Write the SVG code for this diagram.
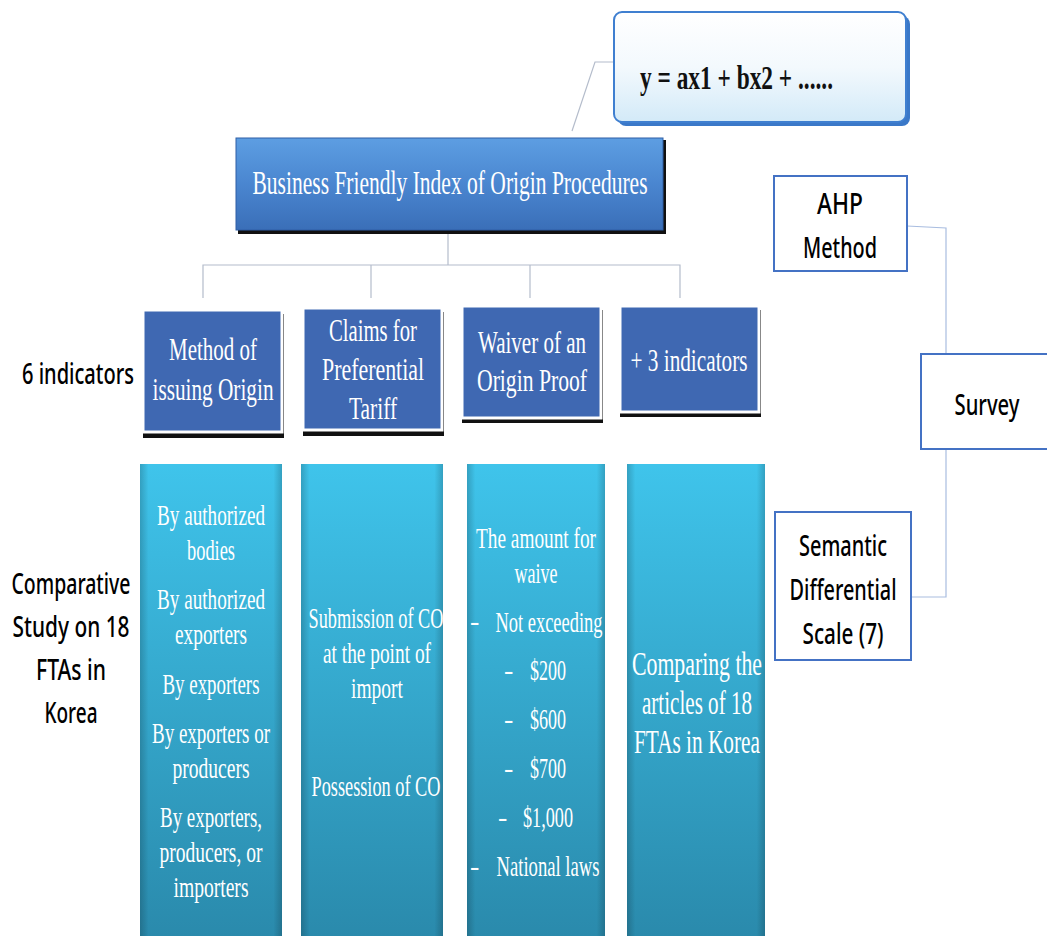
<svg xmlns="http://www.w3.org/2000/svg" width="1047" height="936" viewBox="0 0 1047 936">
<defs>
<linearGradient id="gMain" x1="0" y1="0" x2="0" y2="1">
<stop offset="0" stop-color="#5d9ee2"/><stop offset="0.5" stop-color="#4a86d0"/><stop offset="1" stop-color="#3a6fb8"/>
</linearGradient>
<linearGradient id="gCol" x1="0" y1="0" x2="0" y2="1">
<stop offset="0" stop-color="#3fc4eb"/><stop offset="1" stop-color="#2a8aac"/>
</linearGradient>
<linearGradient id="gEdge" x1="0" y1="0" x2="1" y2="0">
<stop offset="0" stop-color="#000" stop-opacity="0.18"/><stop offset="0.06" stop-color="#000" stop-opacity="0"/><stop offset="0.94" stop-color="#000" stop-opacity="0"/><stop offset="1" stop-color="#000" stop-opacity="0.18"/>
</linearGradient>
<linearGradient id="gFormula" x1="0" y1="0" x2="0" y2="1">
<stop offset="0" stop-color="#ffffff"/><stop offset="0.5" stop-color="#f3f9fd"/><stop offset="1" stop-color="#d3eaf8"/>
</linearGradient>
</defs>
<style>
.serif{font-family:"Liberation Serif","Times New Roman",serif;fill:#fff;text-anchor:middle}
.dash{font-family:"Liberation Serif","Times New Roman",serif;fill:#fff;font-size:28px}
.sans{font-family:"Noto Sans","DejaVu Sans",sans-serif;fill:#000;text-anchor:middle;font-weight:500}
.ind{fill:#3f68b2;stroke:#fff;stroke-width:3}
.shadow{fill:#111}
.col{fill:url(#gCol)}
.edge{fill:url(#gEdge)}
.side{fill:#fff;stroke:#4472c4;stroke-width:2}
.conn{fill:none;stroke:#b4bccb;stroke-width:1.2}
.conn2{fill:none;stroke:#a9bde0;stroke-width:1.2}
</style>

<g id="connectors">
<polyline class="conn" points="614,62 595,62 572,131"/>
<line class="conn" x1="448" y1="230" x2="448" y2="265"/>
<polyline class="conn" points="203,298 203,265 680,265 680,298"/>
<line class="conn" x1="371" y1="265" x2="371" y2="298"/>
<line class="conn" x1="530" y1="265" x2="530" y2="298"/>
<polyline class="conn2" points="907,226 946,228 946,597 911,597"/>
</g>

<g id="formula">
<rect x="618" y="16" width="292" height="110" rx="8" fill="#3a78c8"/>
<rect x="614" y="12" width="292" height="110" rx="8" fill="url(#gFormula)" stroke="#3f7fd0" stroke-width="2"/>
<text x="640" y="89" font-family="Liberation Serif,serif" font-weight="bold" font-size="34" fill="#111" textLength="193" lengthAdjust="spacingAndGlyphs">y = ax1 + bx2 + ......</text>
</g>

<g id="main">
<rect class="shadow" x="238" y="140" width="428" height="94"/>
<rect x="236" y="138" width="427" height="92" fill="url(#gMain)"/>
<rect x="236" y="138" width="427" height="92" fill="none" stroke="#2f5fa6" stroke-width="1"/>
<text class="serif" x="450" y="194" font-size="34" textLength="395" lengthAdjust="spacingAndGlyphs">Business Friendly Index of  Origin Procedures</text>
</g>

<g id="ind1">
<rect class="shadow" x="143" y="314" width="141" height="124"/>
<rect class="ind" x="143" y="310" width="139" height="122"/>
<text class="serif" x="213" y="360" font-size="32" textLength="88" lengthAdjust="spacingAndGlyphs">Method of</text>
<text class="serif" x="213" y="400" font-size="32" textLength="121" lengthAdjust="spacingAndGlyphs">issuing Origin</text>
</g>
<g id="ind2">
<rect class="shadow" x="303" y="312" width="141" height="124"/>
<rect class="ind" x="303" y="308" width="139" height="122"/>
<text class="serif" x="373" y="341" font-size="32" textLength="88" lengthAdjust="spacingAndGlyphs">Claims for</text>
<text class="serif" x="373" y="380" font-size="32" textLength="102" lengthAdjust="spacingAndGlyphs">Preferential</text>
<text class="serif" x="373" y="419" font-size="32" textLength="48" lengthAdjust="spacingAndGlyphs">Tariff</text>
</g>
<g id="ind3">
<rect class="shadow" x="462" y="310" width="141" height="113"/>
<rect class="ind" x="462" y="306" width="139" height="112"/>
<text class="serif" x="532" y="353" font-size="32" textLength="108" lengthAdjust="spacingAndGlyphs">Waiver of an</text>
<text class="serif" x="532" y="391" font-size="32" textLength="110" lengthAdjust="spacingAndGlyphs">Origin Proof</text>
</g>
<g id="ind4">
<rect class="shadow" x="620" y="310" width="141" height="107"/>
<rect class="ind" x="620" y="306" width="139" height="106"/>
<text class="serif" x="689" y="371" font-size="32" textLength="117" lengthAdjust="spacingAndGlyphs">+ 3 indicators</text>
</g>

<g id="label-indicators">
<text class="sans" x="78" y="384" font-size="29" textLength="112" lengthAdjust="spacingAndGlyphs">6 indicators</text>
</g>
<g id="label-comparative">
<text class="sans" x="71" y="594" font-size="29" textLength="119" lengthAdjust="spacingAndGlyphs">Comparative</text>
<text class="sans" x="71" y="637" font-size="29" textLength="117" lengthAdjust="spacingAndGlyphs">Study on 18</text>
<text class="sans" x="71" y="680" font-size="29" textLength="70" lengthAdjust="spacingAndGlyphs">FTAs in</text>
<text class="sans" x="71" y="723" font-size="29" textLength="53" lengthAdjust="spacingAndGlyphs">Korea</text>
</g>

<g id="col1">
<rect class="col" x="140" y="464" width="142" height="472"/>
<rect class="edge" x="140" y="464" width="142" height="472"/>
<text class="serif" x="211" y="525" font-size="29" textLength="108" lengthAdjust="spacingAndGlyphs">By authorized</text>
<text class="serif" x="211" y="560" font-size="29" textLength="48" lengthAdjust="spacingAndGlyphs">bodies</text>
<text class="serif" x="211" y="609" font-size="29" textLength="108" lengthAdjust="spacingAndGlyphs">By authorized</text>
<text class="serif" x="211" y="644" font-size="29" textLength="72" lengthAdjust="spacingAndGlyphs">exporters</text>
<text class="serif" x="211" y="694" font-size="29" textLength="97" lengthAdjust="spacingAndGlyphs">By exporters</text>
<text class="serif" x="211" y="743" font-size="29" textLength="118" lengthAdjust="spacingAndGlyphs">By exporters or</text>
<text class="serif" x="211" y="778" font-size="29" textLength="77" lengthAdjust="spacingAndGlyphs">producers</text>
<text class="serif" x="211" y="827" font-size="29" textLength="102" lengthAdjust="spacingAndGlyphs">By exporters,</text>
<text class="serif" x="211" y="862" font-size="29" textLength="103" lengthAdjust="spacingAndGlyphs">producers, or</text>
<text class="serif" x="211" y="897" font-size="29" textLength="75" lengthAdjust="spacingAndGlyphs">importers</text>
</g>
<g id="col2">
<rect class="col" x="301" y="464" width="142" height="472"/>
<rect class="edge" x="301" y="464" width="142" height="472"/>
<text class="serif" x="376" y="628" font-size="29" textLength="135" lengthAdjust="spacingAndGlyphs">Submission of CO</text>
<text class="serif" x="377" y="663" font-size="29" textLength="108" lengthAdjust="spacingAndGlyphs">at the point of</text>
<text class="serif" x="377" y="698" font-size="29" textLength="52" lengthAdjust="spacingAndGlyphs">import</text>
<text class="serif" x="376" y="796" font-size="29" textLength="129" lengthAdjust="spacingAndGlyphs">Possession of CO</text>
</g>
<g id="col3">
<rect class="col" x="467" y="464" width="138" height="472"/>
<rect class="edge" x="467" y="464" width="138" height="472"/>
<text class="serif" x="536" y="548" font-size="29" textLength="120" lengthAdjust="spacingAndGlyphs">The amount for</text>
<text class="serif" x="536" y="583" font-size="29" textLength="43" lengthAdjust="spacingAndGlyphs">waive</text>
<text class="dash" x="470" y="630">-</text>
<text class="serif" x="549" y="632" font-size="29" textLength="107" lengthAdjust="spacingAndGlyphs">Not exceeding</text>
<text class="dash" x="504" y="679">-</text>
<text class="serif" x="548" y="680" font-size="29" textLength="36" lengthAdjust="spacingAndGlyphs">$200</text>
<text class="dash" x="504" y="728">-</text>
<text class="serif" x="548" y="729" font-size="29" textLength="36" lengthAdjust="spacingAndGlyphs">$600</text>
<text class="dash" x="504" y="777">-</text>
<text class="serif" x="548" y="778" font-size="29" textLength="36" lengthAdjust="spacingAndGlyphs">$700</text>
<text class="dash" x="498" y="826">-</text>
<text class="serif" x="548" y="827" font-size="29" textLength="50" lengthAdjust="spacingAndGlyphs">$1,000</text>
<text class="dash" x="470" y="875">-</text>
<text class="serif" x="548" y="876" font-size="29" textLength="103" lengthAdjust="spacingAndGlyphs">National laws</text>
</g>
<g id="col4">
<rect class="col" x="627" y="464" width="138" height="472"/>
<rect class="edge" x="627" y="464" width="138" height="472"/>
<text class="serif" x="697" y="675" font-size="33" textLength="130" lengthAdjust="spacingAndGlyphs">Comparing the</text>
<text class="serif" x="697" y="714" font-size="33" textLength="110" lengthAdjust="spacingAndGlyphs">articles of 18</text>
<text class="serif" x="697" y="753" font-size="33" textLength="126" lengthAdjust="spacingAndGlyphs">FTAs in Korea</text>
</g>

<g id="ahp">
<rect class="side" x="774" y="176" width="133" height="95"/>
<text class="sans" x="840" y="214" font-size="29" textLength="46" lengthAdjust="spacingAndGlyphs">AHP</text>
<text class="sans" x="840" y="258" font-size="29" textLength="74" lengthAdjust="spacingAndGlyphs">Method</text>
</g>
<g id="survey">
<rect class="side" x="921" y="354" width="130" height="95"/>
<text class="sans" x="987" y="415" font-size="29" textLength="65" lengthAdjust="spacingAndGlyphs">Survey</text>
</g>
<g id="semantic">
<rect class="side" x="775" y="512" width="136" height="148"/>
<text class="sans" x="843" y="556" font-size="29" textLength="88" lengthAdjust="spacingAndGlyphs">Semantic</text>
<text class="sans" x="843" y="600" font-size="29" textLength="107" lengthAdjust="spacingAndGlyphs">Differential</text>
<text class="sans" x="843" y="644" font-size="29" textLength="81" lengthAdjust="spacingAndGlyphs">Scale (7)</text>
</g>
</svg>
